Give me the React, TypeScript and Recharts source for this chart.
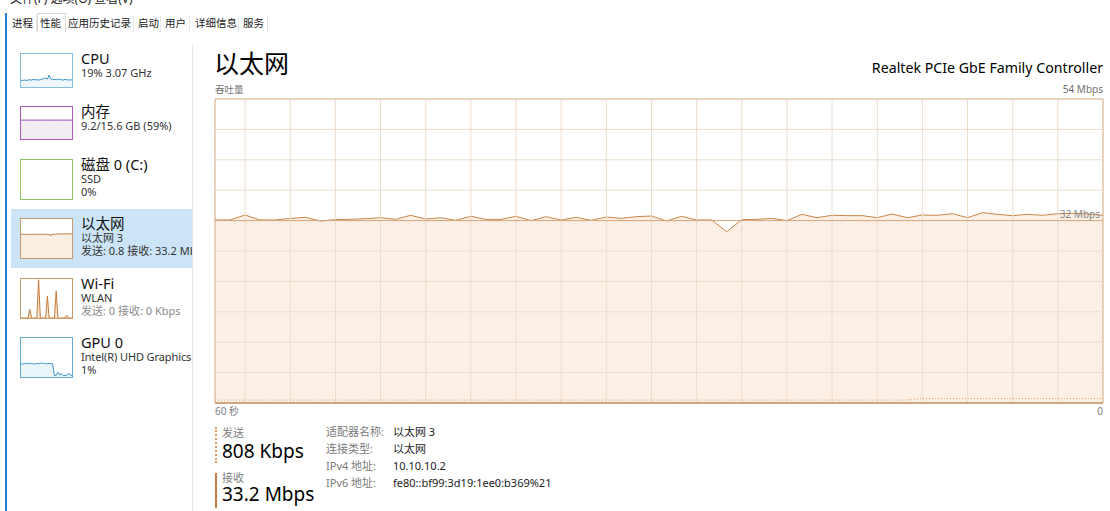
import React from 'react';
import { ComposedChart, AreaChart, Area, Line, XAxis, YAxis, ReferenceLine, ReferenceArea } from 'recharts';

const FONT = "'Noto Sans', 'Noto Sans CJK SC', sans-serif";

// ---- main throughput chart data (Mbps, one sample per second, oldest first)
const receiveMbps = [
  32.51, 32.51, 33.39, 32.51, 32.51, 32.80, 32.98, 32.33, 32.57, 32.62,
  32.74, 32.92, 32.62, 33.34, 32.68, 32.92, 32.45, 33.16, 32.62, 32.62,
  33.16, 32.39, 33.10, 32.51, 32.98, 32.45, 33.04, 32.80, 33.10, 33.22,
  32.33, 33.16, 32.51, 32.51, 30.43, 32.57, 32.62, 32.80, 32.39, 33.51,
  32.92, 33.34, 33.28, 33.28, 32.92, 33.57, 32.92, 33.39, 33.34, 33.63,
  32.92, 33.81, 33.51, 33.28, 33.51, 33.34, 33.63, 33.69, 33.57, 33.34,
];
const sendMbps = [
  0.53, 0.53, 0.53, 0.53, 0.53, 0.53, 0.53, 0.53, 0.53, 0.53,
  0.53, 0.53, 0.53, 0.53, 0.53, 0.53, 0.53, 0.53, 0.53, 0.53,
  0.53, 0.53, 0.53, 0.53, 0.53, 0.53, 0.53, 0.53, 0.53, 0.53,
  0.53, 0.53, 0.53, 0.53, 0.53, 0.53, 0.53, 0.53, 0.53, 0.53,
  0.53, 0.53, 0.53, 0.53, 0.53, 0.53, 0.53, 0.77, 0.77, 0.77,
  0.77, 0.77, 0.77, 0.77, 0.77, 0.77, 0.77, 0.77, 0.77, 0.77,
];
const xGridSeconds = [2, 5, 8, 11, 14, 17, 20, 23, 26, 29, 32, 35, 38, 41, 44, 47, 50, 53, 56];
const yGridMbps = [5.4, 10.8, 16.2, 21.6, 27, 37.8, 43.2, 48.6];
const scaleLineMbps = 32.4;
const scaleLineLabel = '32 Mbps';
const yMaxMbps = 54;
const yMaxLabel = '54 Mbps';
const timeTickLabels = ['60 秒', '0'];

// ---- sidebar thumbnails
const cpuPct = [20, 20, 21, 20, 21, 22, 21, 23, 22, 22, 21, 22, 24, 25, 27, 24, 36, 24, 22, 23, 22, 24, 23, 22, 21, 23, 22, 21, 22, 21];
const memPct = [59, 59, 59, 59, 59, 59, 59, 59, 59, 59, 59, 59, 59, 59, 59, 59, 59, 59, 59, 59, 59, 59, 59, 59, 59, 59, 59, 59, 59, 59];
const wifiPct = [0, 0, 0, 0, 0, 22, 0, 0, 0, 0, 98, 0, 0, 0, 0, 56, 0, 0, 0, 0, 69, 0, 0, 0, 0, 0, 7, 0, 0, 0];
const gpuPct = [34, 33, 35, 34, 36, 34, 35, 34, 33, 35, 34, 35, 36, 35, 34, 34, 35, 34, 34, 4, 4, 12, 5, 9, 4, 4, 4, 10, 5, 4];

const tabs = ['进程', '性能', '应用历史记录', '启动', '用户', '详细信息', '服务'];
const menuText = '文件(F)   选项(O)   查看(V)';
const sideTitles = ['CPU', '内存', '磁盘 0 (C:)', '以太网', 'Wi-Fi', 'GPU 0'];
const sideSubs = [
  ['19% 3.07 GHz'],
  ['9.2/15.6 GB (59%)'],
  ['SSD', '0%'],
  ['以太网 3', '发送: 0.8 接收: 33.2 Mbps'],
  ['WLAN', '发送: 0 接收: 0 Kbps'],
  ['Intel(R) UHD Graphics', '1%'],
];
const pageTitle = '以太网';
const adapterName = 'Realtek PCIe GbE Family Controller';
const throughputLabel = '吞吐量';
const sendLabel = '发送';
const sendValue = '808 Kbps';
const recvLabel = '接收';
const recvValue = '33.2 Mbps';
const infoKeys = ['适配器名称:', '连接类型:', 'IPv4 地址:', 'IPv6 地址:'];
const infoValues = ['以太网 3', '以太网', '10.10.10.2', 'fe80::bf99:3d19:1ee0:b369%21'];

const mainRows = receiveMbps.map((r, i) => ({ i, receive: r, send: sendMbps[i] }));

type TProps = { x?: number; right?: number; b: number; fs: number; color?: string; ls?: number; children: React.ReactNode };
const T = ({ x, right, b, fs, color = '#000', ls, children }: TProps) => (
  <div
    style={{
      position: 'absolute',
      ...(right !== undefined ? { right: 1110 - right } : { left: x }),
      top: b - 0.888 * fs,
      fontSize: fs,
      lineHeight: `${fs}px`,
      color,
      whiteSpace: 'nowrap',
      fontFamily: FONT,
      letterSpacing: ls,
    }}
  >
    {children}
  </div>
);

type ThumbProps = { x: number; y: number; w: number; h: number; border: string; data?: number[]; stroke?: string; fill?: string; max?: number };
function Thumb({ x, y, w, h, border, data, stroke, fill, max }: ThumbProps) {
  const rows = data ? data.map((v, i) => ({ i, v })) : null;
  return (
    <div style={{ position: 'absolute', left: x, top: y, width: w, height: h, border: `1px solid ${border}`, boxSizing: 'border-box', background: '#fff' }}>
      {rows && (
        <AreaChart width={w - 2} height={h - 2} data={rows} margin={{ top: 0, right: 0, bottom: 0, left: 0 }}>
          <XAxis dataKey="i" type="number" domain={[0, rows.length - 1]} hide />
          <YAxis type="number" domain={[0, max ?? 100]} hide />
          <Area type="linear" dataKey="v" stroke={stroke} strokeWidth={1} fill={fill} fillOpacity={1} isAnimationActive={false} dot={false} activeDot={false} />
        </AreaChart>
      )}
    </div>
  );
}

const TimeTick = (props: any) => {
  const { x, y, payload } = props;
  const first = payload.value === 0;
  return (
    <text x={x} y={y + 12} textAnchor={first ? 'start' : 'end'} fontSize={10} fill="#808080" fontFamily={FONT}>
      {first ? timeTickLabels[0] : timeTickLabels[1]}
    </text>
  );
};

export default function App() {
  const thumbTops = [53, 106, 159, 218, 278, 337];
  const thumbHeights = [35, 34, 41, 41, 41, 41];
  const tabEdges = [8, 37, 66, 134, 161, 190, 239, 268];
  const tabTextX = [12, 40, 68, 138, 165, 195, 243];
  return (
    <div style={{ position: 'absolute', left: 0, top: 0, width: 1110, height: 511, overflow: 'hidden', background: '#fff', fontFamily: FONT }}>
      {/* clipped menu bar */}
      <T x={10} b={4} fs={12} color="#222">{menuText}</T>
      {/* window blue edge */}
      <div style={{ position: 'absolute', left: 5, top: 13, width: 2, height: 498, background: '#2a7fd4' }} />
      {/* tabs */}
      {tabs.map((t, k) => (
        <div
          key={t}
          style={{
            position: 'absolute',
            left: tabEdges[k],
            top: k === 1 ? 13 : 15,
            width: tabEdges[k + 1] - tabEdges[k],
            height: k === 1 ? 19 : 17,
            boxSizing: 'border-box',
            borderTop: k === 1 ? '1px solid #d9d9d9' : 'none',
            borderLeft: k === 1 ? '1px solid #d9d9d9' : 'none',
            borderRight: k === 1 ? '1px solid #d9d9d9' : '1px solid #e6e6e6',
            background: '#fff',
          }}
        />
      ))}
      {tabs.map((t, k) => (
        <T key={'t' + t} x={tabTextX[k]} b={27} fs={10.5} color="#222">{t}</T>
      ))}

      {/* sidebar */}
      <div style={{ position: 'absolute', left: 11, top: 209, width: 181, height: 59, background: '#cce4f7' }} />
      <Thumb x={20} y={thumbTops[0]} w={53} h={thumbHeights[0]} border="#86bedf" data={cpuPct} stroke="#3a8fc6" fill="#f0f7fc" max={100} />
      <Thumb x={20} y={thumbTops[1]} w={53} h={thumbHeights[1]} border="#ac5dc4" data={memPct} stroke="#9c48b6" fill="#f1edf3" max={100} />
      <Thumb x={20} y={thumbTops[2]} w={53} h={thumbHeights[2]} border="#8cc466" />
      <Thumb x={20} y={thumbTops[3]} w={53} h={thumbHeights[3]} border="#c99a6c" data={receiveMbps} stroke="#b9743a" fill="#fbeee3" max={yMaxMbps} />
      <Thumb x={20} y={thumbTops[4]} w={53} h={thumbHeights[4]} border="#c99a6c" data={wifiPct} stroke="#c77a3a" fill="#fbe9da" max={100} />
      <Thumb x={20} y={thumbTops[5]} w={53} h={thumbHeights[5]} border="#66abd7" data={gpuPct} stroke="#3c95cc" fill="#eaf4fb" max={100} />
      <div style={{ position: 'absolute', left: 0, top: 0, width: 192, height: 511, overflow: 'hidden' }}>
        {sideTitles.map((t, k) => (
          <React.Fragment key={t}>
            <T x={81} b={thumbTops[k] + 10.5} fs={14.5} color="#111">{t}</T>
            {sideSubs[k].map((s, j) => (
              <T key={s} x={81} b={thumbTops[k] + 23.5 + j * 13.5} fs={11} ls={k === 5 && j === 0 ? -0.1 : undefined} color={k === 4 && j === 1 ? '#8c8c8c' : '#333'}>{s}</T>
            ))}
          </React.Fragment>
        ))}
      </div>
      <div style={{ position: 'absolute', left: 192, top: 45, width: 1, height: 466, background: '#e8e8e8' }} />

      {/* header */}
      <T x={214} b={73} fs={25} color="#000">{pageTitle}</T>
      <T right={1103} b={73.3} fs={14.2} color="#000">{adapterName}</T>
      <T x={215} b={93} fs={9.5} color="#707070">{throughputLabel}</T>
      <T right={1103} b={93} fs={10} color="#707070">{yMaxLabel}</T>

      {/* main chart */}
      <div style={{ position: 'absolute', left: 214, top: 98 }}>
        <ComposedChart width={890} height={321} data={mainRows} margin={{ top: 1, right: 1, bottom: 0, left: 1 }}>
          <XAxis dataKey="i" type="number" domain={[0, 59]} ticks={[0, 59]} interval={0} axisLine={false} tickLine={false} tickSize={0} tickMargin={0} height={16} tick={TimeTick} />
          <YAxis type="number" domain={[0, yMaxMbps]} hide />
          {xGridSeconds.map((t) => (
            <ReferenceLine key={'gx' + t} x={t} stroke="#ecdccd" strokeWidth={1} />
          ))}
          {yGridMbps.map((v) => (
            <ReferenceLine key={'gy' + v} y={v} stroke="#ecdccd" strokeWidth={1} />
          ))}
          <Area type="linear" dataKey="receive" stroke="#c9864a" strokeWidth={1} fill="#f3c29a" fillOpacity={0.25} isAnimationActive={false} dot={false} activeDot={false} />
          <ReferenceLine
            y={scaleLineMbps}
            stroke="#d3a57c"
            strokeWidth={1}
            label={{ value: scaleLineLabel, position: 'insideBottomRight', offset: 3, fill: '#8a8a8a', fontSize: 10, fontFamily: FONT }}
          />
          <Line type="linear" dataKey="send" stroke="#e39a62" strokeWidth={1} strokeDasharray="1 2" dot={false} activeDot={false} isAnimationActive={false} />
          <ReferenceArea x1={0} x2={59} y1={0} y2={yMaxMbps} fill="none" stroke="#cfa77f" strokeWidth={1} ifOverflow="visible" />
          <ReferenceLine y={0} stroke="#cfa77f" strokeWidth={2} />
        </ComposedChart>
      </div>

      {/* bottom stats */}
      <div style={{ position: 'absolute', left: 215, top: 427, width: 0, height: 36, borderLeft: '2px dotted #e59a5f' }} />
      <div style={{ position: 'absolute', left: 215, top: 473, width: 2, height: 35, background: '#c57f43' }} />
      <T x={222} b={437} fs={11} color="#808080">{sendLabel}</T>
      <T x={222} b={459} fs={19} color="#000">{sendValue}</T>
      <T x={222} b={482} fs={11} color="#808080">{recvLabel}</T>
      <T x={222} b={501.5} fs={19} color="#000">{recvValue}</T>
      {infoKeys.map((k, j) => (
        <T key={k} x={326} b={436 + j * 17} fs={11} color="#7a7a7a">{k}</T>
      ))}
      {infoValues.map((v, j) => (
        <T key={v} x={393} b={436 + j * 17} fs={11} color="#222">{v}</T>
      ))}
    </div>
  );
}
